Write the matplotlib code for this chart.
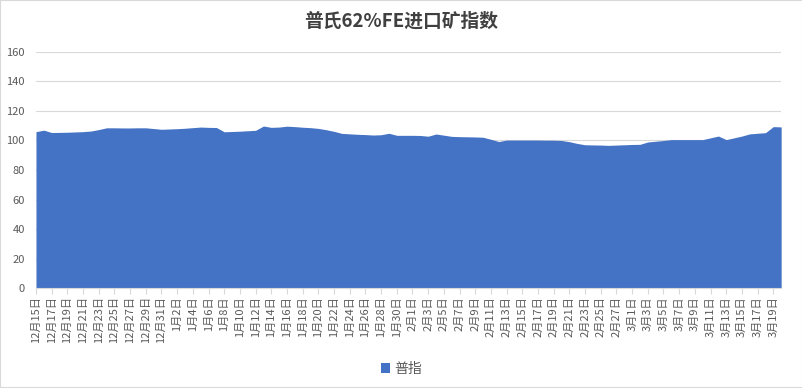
import pandas as pd
import matplotlib.pyplot as plt
from matplotlib.patches import Rectangle

plt.rcParams['font.family'] = ['Noto Sans CJK SC', 'DejaVu Sans']

# daily values, 12/15 .. 3/20
dates = pd.date_range('2022-12-15', '2023-03-20', freq='D')
date_labels = [f"{d.month}月{d.day}日" for d in dates]
values = [106.0, 107.0, 105.4, 105.5, 105.6, 105.8, 106.0, 106.4, 107.4, 108.6,
          108.6, 108.5, 108.5, 108.6, 108.6, 108.1, 107.6, 107.8, 108.0, 108.3,
          108.7, 109.1, 108.9, 108.8, 105.9, 106.1, 106.3, 106.6, 106.9, 109.8,
          108.9, 109.1, 109.7, 109.4, 109.0, 108.7, 108.2, 107.3, 106.2, 104.8,
          104.5, 104.2, 104.0, 103.7, 103.9, 104.9, 103.5, 103.5, 103.5, 103.4,
          102.9, 104.4, 103.6, 102.8, 102.6, 102.5, 102.4, 102.2, 100.8, 99.3,
          100.3, 100.3, 100.3, 100.3, 100.3, 100.2, 100.2, 100.0, 99.2, 98.0,
          97.1, 97.0, 96.9, 96.7, 96.9, 97.1, 97.3, 97.4, 99.0, 99.5,
          100.0, 100.6, 100.6, 100.6, 100.6, 100.6, 101.8, 103.0, 100.6, 101.8,
          103.0, 104.5, 104.9, 105.3, 109.4, 109.2]
series_name = '普指'
title = '普氏62%FE进口矿指数'

fig = plt.figure(figsize=(8.03, 3.88), dpi=100)
ax = fig.add_axes([0.0448, 0.2577, 0.928, 0.6083])

x = list(range(len(values)))
ax.fill_between(x, values, 0, color='#4472C4', linewidth=0, label=series_name)

ax.set_xlim(0, len(values) - 1)
ax.set_ylim(0, 160)
ax.set_yticks(range(0, 161, 20))
ax.grid(axis='y', color='#d9d9d9', linewidth=0.8)
ax.set_axisbelow(True)

ax.set_xticks(x[::2])
ax.set_xticklabels(date_labels[::2], rotation=90, fontsize=8, color='#595959')
ax.tick_params(axis='x', length=4, color='#d9d9d9', pad=2)
ax.tick_params(axis='y', length=0, labelsize=8, labelcolor='#595959', pad=8)

for s in ['top', 'right', 'left']:
    ax.spines[s].set_visible(False)
ax.spines['bottom'].set_color('#d9d9d9')

fig.text(0.5, 0.945, title, ha='center', va='center', fontsize=13.5,
         fontweight='bold', color='#404040')

fig.legend(loc='center', bbox_to_anchor=(0.5, 0.05), frameon=False, fontsize=10,
           handlelength=0.7, handleheight=0.7, handletextpad=0.3,
           labelcolor='#595959')

fig.patches.append(Rectangle((0, 0), 1, 1, transform=fig.transFigure,
                             fill=False, edgecolor='#d9d9d9', linewidth=1.5))

plt.savefig('out.png', dpi=100)
